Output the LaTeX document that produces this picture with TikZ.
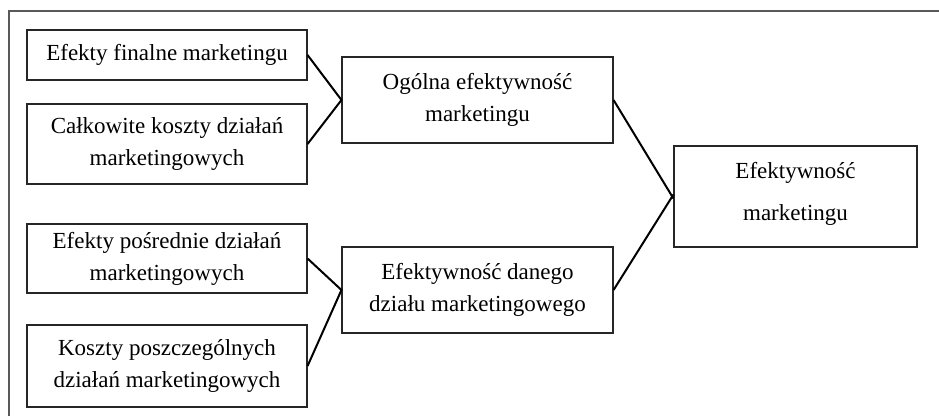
\documentclass[tikz,border=0pt]{standalone}
\usepackage{fontspec}
\setmainfont{Liberation Serif}
\begin{document}
\begin{tikzpicture}[x=1pt,y=-1pt,
  box/.style={draw=black!85, line width=1.1pt, rectangle, inner sep=0pt, align=center,
    font=\fontsize{23}{32}\selectfont},
  conn/.style={draw=black, line width=2pt}]
\useasboundingbox (0,0) rectangle (939,416);
\draw[black!65, line width=1.2pt] (9,416) -- (9,11) -- (939,11);
\node[box, minimum width=280pt, minimum height=50pt] (A) at (167,55) {Efekty finalne marketingu};
\node[box, minimum width=280pt, minimum height=80pt] (B) at (167,144) {Całkowite koszty działań\\marketingowych};
\node[box, minimum width=280pt, minimum height=69pt] (D) at (167,258.5) {Efekty pośrednie działań\\marketingowych};
\node[box, minimum width=280pt, minimum height=82pt] (E) at (167,366) {Koszty poszczególnych\\działań marketingowych};
\node[box, minimum width=271pt, minimum height=86pt] (C) at (477.5,100) {Ogólna efektywność\\marketingu};
\node[box, minimum width=271pt, minimum height=86pt] (F) at (477.5,290) {Efektywność danego\\działu marketingowego};
\node[box, minimum width=243pt, minimum height=101pt, font=\fontsize{23}{42}\selectfont] (G) at (795.5,196.5)
  {\raisebox{5pt}[\height][\depth]{\begin{tabular}{@{}c@{}}Efektywność\\marketingu\end{tabular}}};
\draw[conn] (A.east) -- (C.west) -- (B.east);
\draw[conn] (D.east) -- (F.west) -- (E.east);
\draw[conn] (C.east) -- ([yshift=-2pt]G.west);
\draw[conn] (F.east) -- ([yshift=2pt]G.west);
\end{tikzpicture}
\end{document}
